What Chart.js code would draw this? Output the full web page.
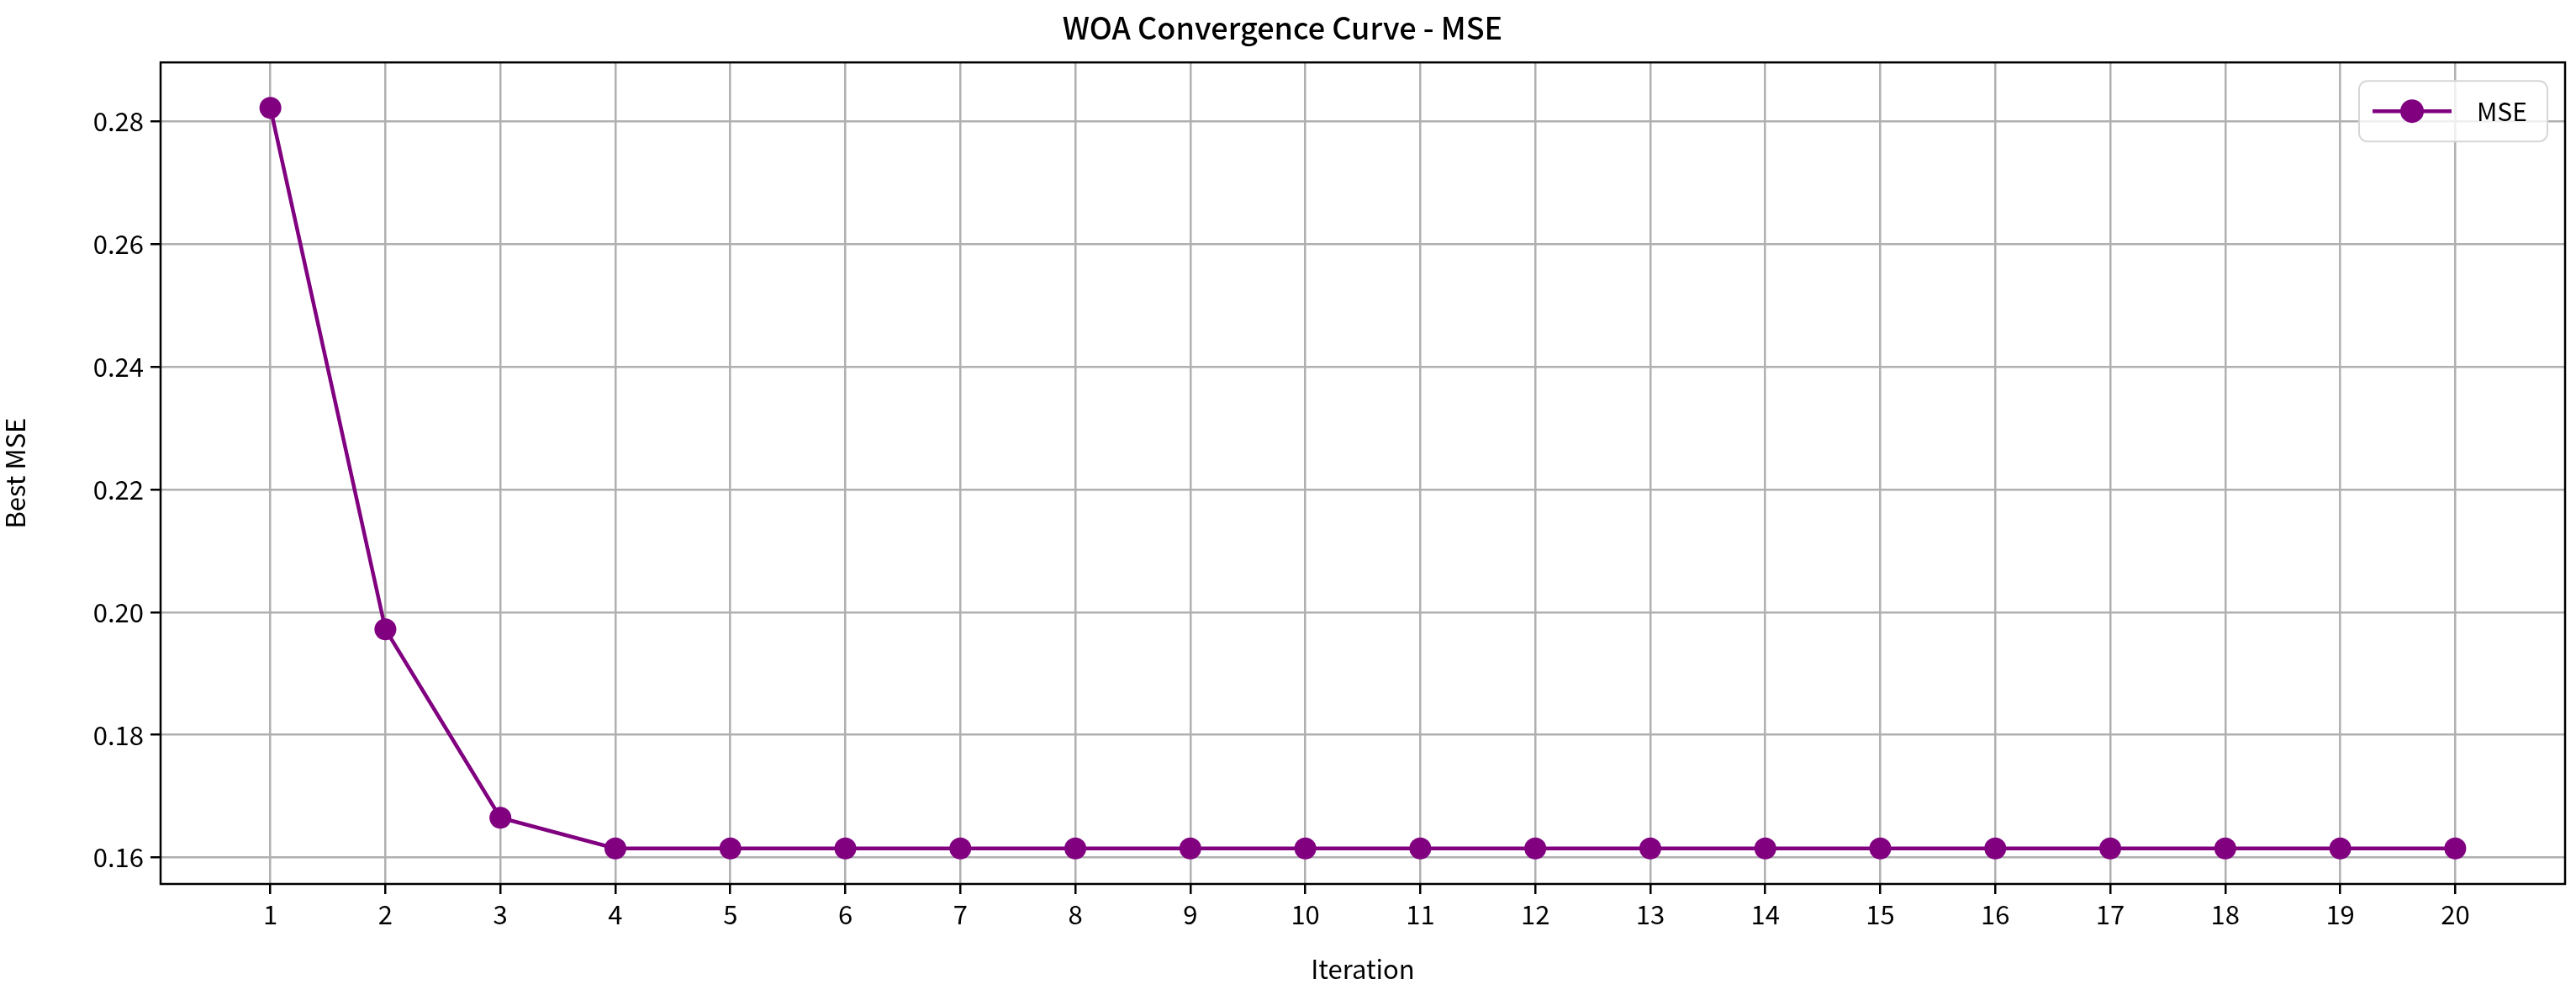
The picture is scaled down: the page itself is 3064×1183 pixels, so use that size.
<!DOCTYPE html>
<html><head><meta charset="utf-8">
<script src="https://cdn.jsdelivr.net/npm/chart.js@4"></script>
<style>html,body{margin:0;padding:0;background:#fff}#w{width:3064px;height:1183px}</style>
</head><body><div id="w"><canvas id="c"></canvas></div>
<script>
const iterations = [1,2,3,4,5,6,7,8,9,10,11,12,13,14,15,16,17,18,19,20];
const mseValues = [0.2822,0.1972,0.1665,0.1615,0.1615,0.1615,0.1615,0.1615,0.1615,0.1615,0.1615,0.1615,0.1615,0.1615,0.1615,0.1615,0.1615,0.1615,0.1615,0.1615];
const yTicks = [0.16,0.18,0.20,0.22,0.24,0.26,0.28];
const FONT = "'Noto Sans CJK SC', 'DejaVu Sans', sans-serif";

const frame = {
  id:'frame',
  afterDraw(chart){
    const {ctx, chartArea:a} = chart;
    ctx.save();
    ctx.strokeStyle='#000'; ctx.lineWidth=2.5;
    ctx.strokeRect(a.left,a.top,a.right-a.left,a.bottom-a.top);
    // legend box inside plot, top right
    const ds = chart.data.datasets[0];
    const bx=a.right-245, by=a.top+22, bw=224, bh=72;
    ctx.fillStyle='rgba(255,255,255,0.8)';
    ctx.strokeStyle='#d6d6d6'; ctx.lineWidth=2;
    ctx.beginPath(); ctx.roundRect(bx,by,bw,bh,10); ctx.fill(); ctx.stroke();
    const cy=by+bh/2;
    ctx.strokeStyle=ds.borderColor; ctx.lineWidth=4.5;
    ctx.beginPath(); ctx.moveTo(bx+16,cy); ctx.lineTo(bx+110,cy); ctx.stroke();
    ctx.fillStyle=ds.borderColor;
    ctx.beginPath(); ctx.arc(bx+63,cy,14,0,Math.PI*2); ctx.fill();
    ctx.fillStyle='#000'; ctx.font='30px '+FONT; ctx.textBaseline='middle';
    ctx.fillText(ds.label,bx+140,cy);
    ctx.restore();
  }
};

new Chart(document.getElementById('c'),{
  type:'line',
  data:{labels:iterations,datasets:[{
    label:'MSE',
    data:iterations.map((x,i)=>({x:x,y:mseValues[i]})),
    borderColor:'#800080',backgroundColor:'#800080',
    borderWidth:4.5,pointRadius:13,pointHoverRadius:13,
    pointBackgroundColor:'#800080',pointBorderWidth:0,tension:0
  }]},
  options:{
    responsive:true,maintainAspectRatio:false,animation:false,
    layout:{padding:{left:0,right:13,top:0,bottom:0}},
    plugins:{
      title:{display:true,text:'WOA Convergence Curve - MSE',color:'#000',
        font:{family:FONT,size:36,weight:'500'},padding:{top:12,bottom:19}},
      legend:{display:false},
      tooltip:{enabled:false}
    },
    scales:{
      x:{type:'linear',min:0.045,max:20.955,
        afterBuildTicks(s){s.ticks=iterations.map(v=>({value:v}));},
        afterFit(s){s.height=132;},
        ticks:{color:'#000',font:{family:FONT,size:31},padding:6,autoSkip:false,maxRotation:0,callback:v=>String(v)},
        grid:{color:'#b0b0b0',lineWidth:2.5,tickLength:12,tickColor:'#000',tickWidth:2.5},
        border:{display:false},
        title:{display:true,text:'Iteration',color:'#000',font:{family:FONT,size:31},padding:{top:0,bottom:12}}
      },
      y:{min:0.1557,max:0.2896,
        afterBuildTicks(s){s.ticks=yTicks.map(v=>({value:v}));},
        afterFit(s){s.width=191;},
        ticks:{color:'#000',font:{family:FONT,size:31},padding:8,callback:v=>v.toFixed(2)},
        grid:{color:'#b0b0b0',lineWidth:2.5,tickLength:12,tickColor:'#000',tickWidth:2.5},
        border:{display:false},
        title:{display:true,text:'Best MSE',color:'#000',font:{family:FONT,size:31},padding:{top:0,bottom:18}}
      }
    }
  },
  plugins:[frame]
});
</script></body></html>
